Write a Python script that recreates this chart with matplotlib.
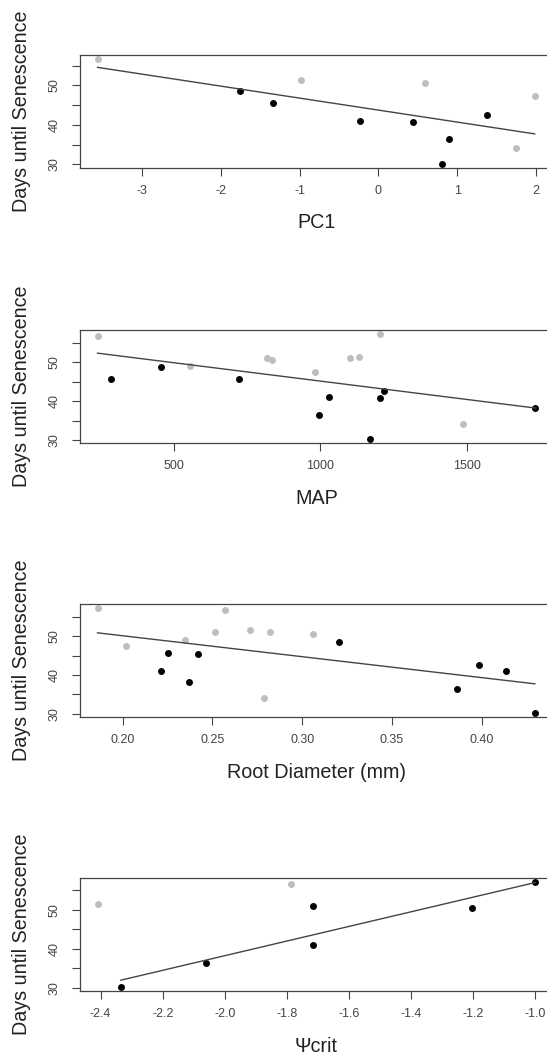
import matplotlib
matplotlib.use("Agg")
import matplotlib.pyplot as plt
import numpy as np

plt.rcParams['font.family'] = ['Liberation Sans', 'DejaVu Sans']
plt.rcParams['axes.unicode_minus'] = False

GRAY = '#BEBEBE'
ylab = "Days until Senescence"

# panel 1: PC1
pc1_gray_x = [-3.56, -0.98, 0.59, 1.74, 1.99]
pc1_gray_y = [56.8, 51.3, 50.6, 34.1, 47.4]
pc1_black_x = [-1.76, -1.34, -0.23, 0.44, 0.81, 0.89, 1.37]
pc1_black_y = [48.6, 45.5, 41.0, 40.8, 30.1, 36.4, 42.6]
pc1_fit_x = [-3.56, 1.98]
pc1_fit_y = [54.6, 37.7]
pc1_ticks = [-3, -2, -1, 0, 1, 2]
pc1_labels = ['-3', '-2', '-1', '0', '1', '2']

# panel 2: MAP
map_gray_x = [240, 557, 819, 835, 982, 1101, 1133, 1205, 1489]
map_gray_y = [56.7, 49.0, 51.1, 50.6, 47.5, 51.1, 51.4, 57.3, 34.1]
map_black_x = [287, 457, 722, 995, 1029, 1171, 1204, 1217, 1735]
map_black_y = [45.6, 48.7, 45.7, 36.5, 41.0, 30.3, 40.8, 42.7, 38.2]
map_fit_x = [240, 1735]
map_fit_y = [52.3, 38.2]
map_ticks = [500, 1000, 1500]
map_labels = ['500', '1000', '1500']

# panel 3: root diameter
rd_gray_x = [0.186, 0.2017, 0.235, 0.2517, 0.257, 0.271, 0.279, 0.282, 0.306]
rd_gray_y = [57.4, 47.5, 49.1, 51.0, 56.7, 51.5, 34.1, 51.2, 50.6]
rd_black_x = [0.2215, 0.225, 0.237, 0.242, 0.3207, 0.386, 0.3987, 0.4134, 0.430]
rd_black_y = [40.9, 45.8, 38.2, 45.5, 48.6, 36.4, 42.6, 40.9, 30.2]
rd_fit_x = [0.186, 0.4296]
rd_fit_y = [50.9, 37.7]
rd_ticks = [0.20, 0.25, 0.30, 0.35, 0.40]
rd_labels = ['0.20', '0.25', '0.30', '0.35', '0.40']

# panel 4: Psi crit
psi_gray_x = [-2.41, -1.786]
psi_gray_y = [51.4, 56.6]
psi_black_x = [-2.335, -2.06, -1.717, -1.717, -1.204, -1.0]
psi_black_y = [30.2, 36.4, 50.9, 40.9, 50.5, 57.2]
psi_fit_x = [-2.335, -1.0]
psi_fit_y = [31.9, 57.0]
psi_ticks = [-2.4, -2.2, -2.0, -1.8, -1.6, -1.4, -1.2, -1.0]
psi_labels = ['-2.4', '-2.2', '-2.0', '-1.8', '-1.6', '-1.4', '-1.2', '-1.0']

y_ticks = [30, 35, 40, 45, 50, 55]
y_labels = ['30', '', '40', '', '50', '']

panels = [
    (pc1_gray_x, pc1_gray_y, pc1_black_x, pc1_black_y, pc1_fit_x, pc1_fit_y, pc1_ticks, pc1_labels, "PC1", 168),
    (map_gray_x, map_gray_y, map_black_x, map_black_y, map_fit_x, map_fit_y, map_ticks, map_labels, "MAP", 443),
    (rd_gray_x, rd_gray_y, rd_black_x, rd_black_y, rd_fit_x, rd_fit_y, rd_ticks, rd_labels, "Root Diameter (mm)", 717),
    (psi_gray_x, psi_gray_y, psi_black_x, psi_black_y, psi_fit_x, psi_fit_y, psi_ticks, psi_labels, "\u03a8crit", 991),
]

W, H = 547, 1057
fig = plt.figure(figsize=(W / 100, H / 100), dpi=100)

left_px, right_px, h_px = 80, 553, 113.5
for gx, gy, bx, by, fx, fy, xt, xl, xlab, bottom_px in panels:
    ax = fig.add_axes([left_px / W, 1 - bottom_px / H, (right_px - left_px) / W, h_px / H])
    ax.plot(gx, gy, 'o', color=GRAY, ms=5, mew=0)
    ax.plot(bx, by, 'o', color='black', ms=5, mew=0)
    ax.plot(fx, fy, color='#444444', lw=1.0)

    # R-style 4% padding
    allx = np.array(gx + bx, dtype=float)
    ally = np.array(gy + by, dtype=float)
    dx = (allx.max() - allx.min()) * 0.04
    dy = (ally.max() - ally.min()) * 0.04
    ax.set_xlim(allx.min() - dx, allx.max() + dx)
    ax.set_ylim(ally.min() - dy, ally.max() + dy)

    ax.set_xticks(xt)
    ax.set_xticklabels(xl)
    ax.set_yticks(y_ticks)
    ax.set_yticklabels(y_labels, rotation=90, va='center')

    ax.tick_params(axis='both', direction='out', length=5.8, width=0.8,
                   colors='#444444', labelsize=9)
    ax.tick_params(axis='x', pad=6.5)
    ax.tick_params(axis='y', pad=8)
    for sp in ax.spines.values():
        sp.set_linewidth(0.9)
        sp.set_color('#444444')

    ax.set_ylabel(ylab, fontsize=14.2, color='#222222', va='center')
    ax.yaxis.set_label_coords((22 - left_px) / (right_px - left_px), 0.5)
    ax.set_xlabel(xlab, fontsize=14.2, color='#222222', va='center')
    ax.xaxis.set_label_coords(0.5, -55 / h_px)

fig.savefig("out.png", dpi=100)
